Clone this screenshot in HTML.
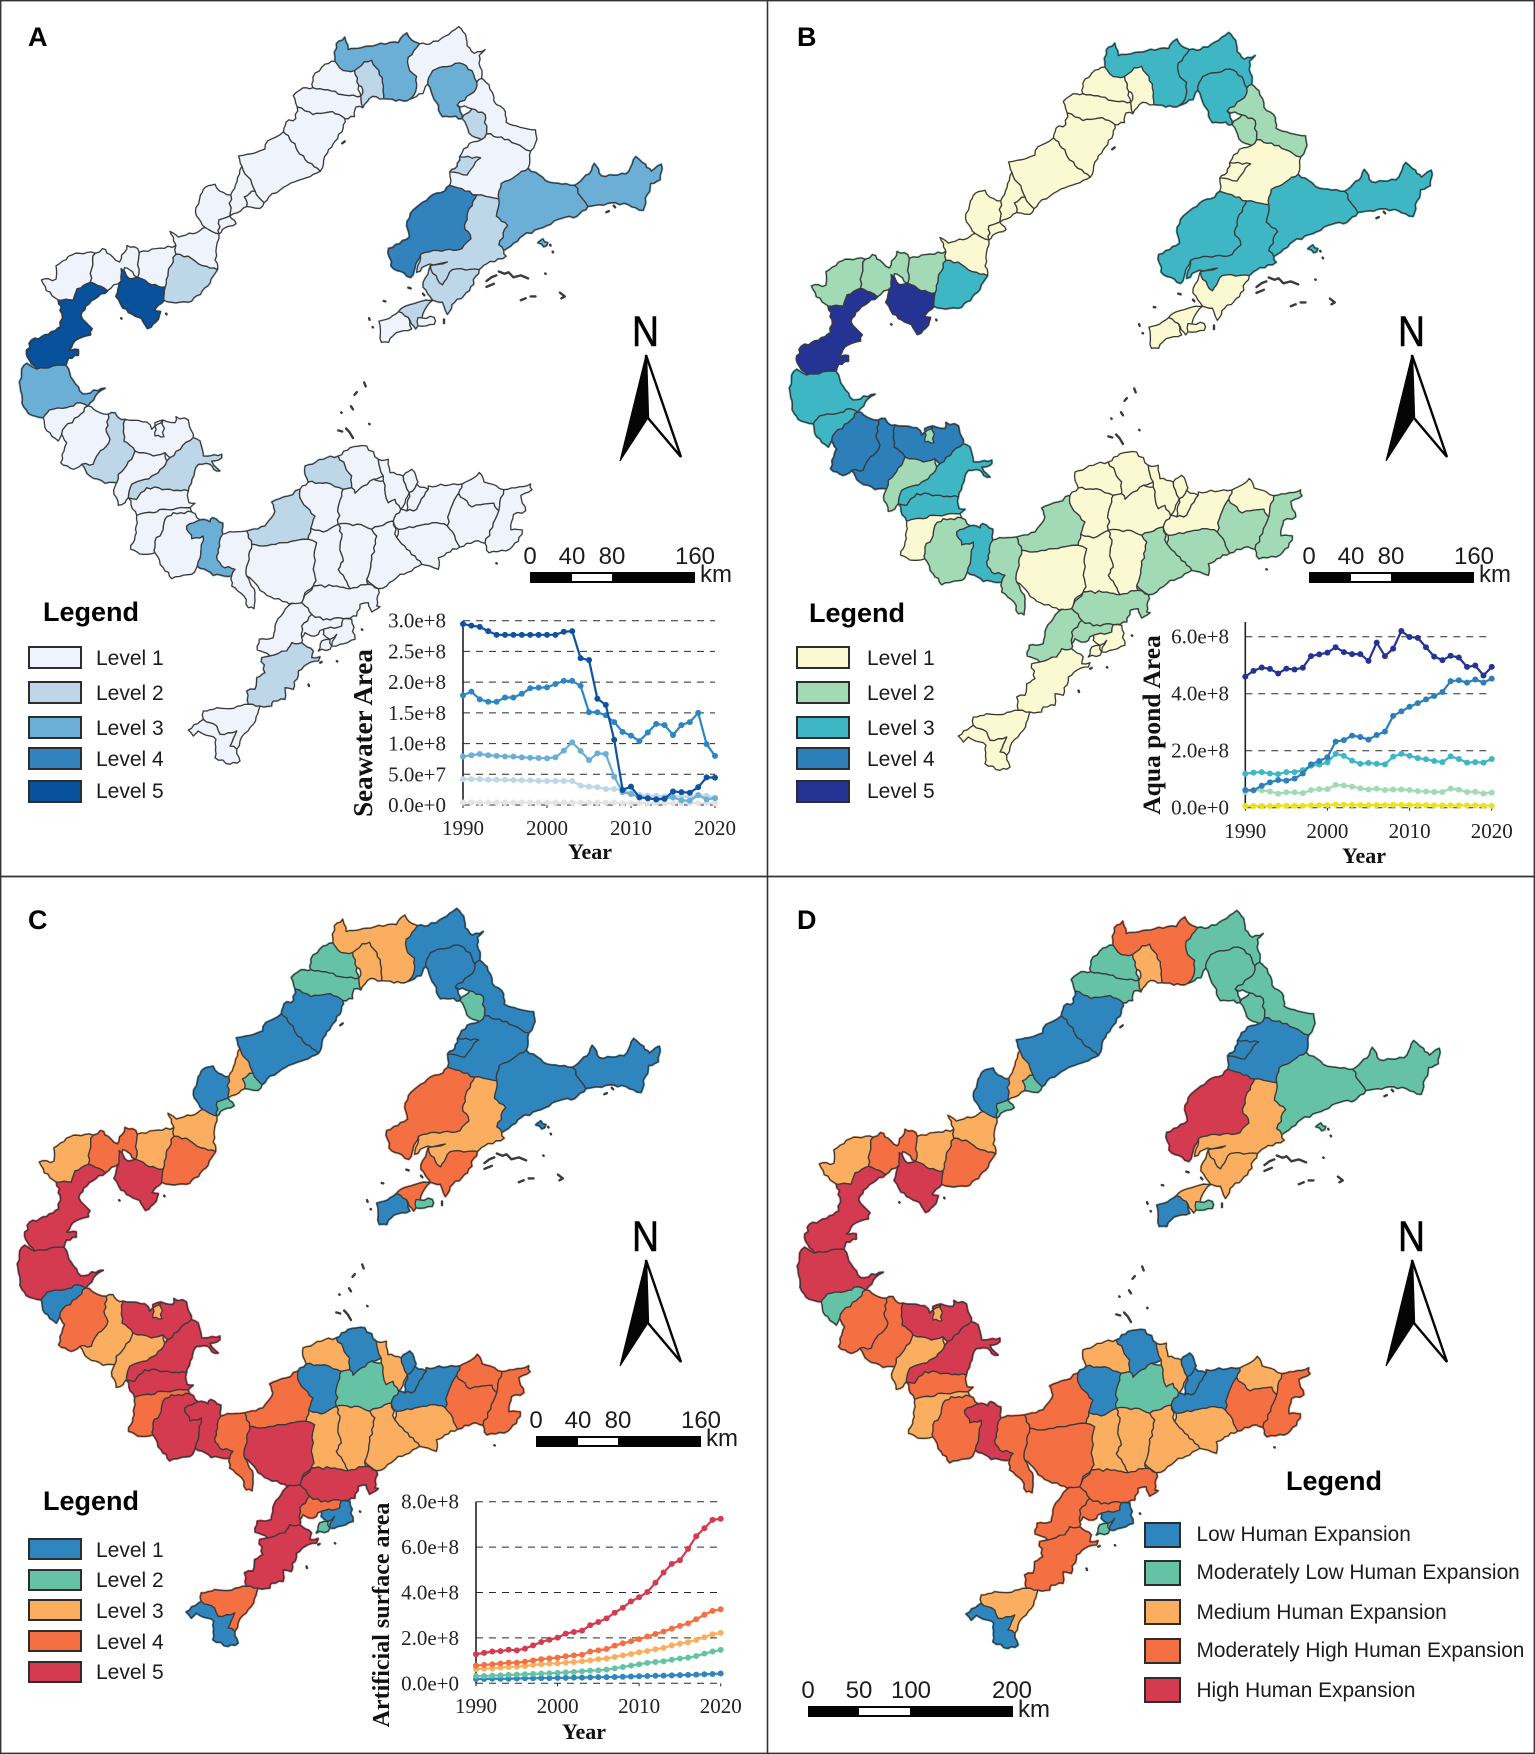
<!DOCTYPE html>
<html lang="en">
<head>
<meta charset="utf-8">
<title>Human expansion maps</title>
<style>
html,body{margin:0;padding:0;background:#fff;}
svg{display:block;}
text{font-family:"Liberation Sans",sans-serif;fill:#1c1c1c;}
.plabel{font-weight:bold;font-size:27px;fill:#000;}
.ltitle{font-weight:bold;font-size:27px;fill:#000;}
.ltext{font-size:21px;}
.scale{font-size:24px;text-anchor:middle;}
.km{font-size:24px;}
.north{font-size:43px;fill:#000;stroke:#000;stroke-width:.6px;}
.swatch{stroke:#2d2d2d;stroke-width:2;}
.axt{font-family:"Liberation Serif",serif;font-weight:bold;fill:#111;text-anchor:middle;}
.tick{font-family:"Liberation Serif",serif;font-size:21px;fill:#222;}
</style>
</head>
<body>
<svg id="root" xmlns="http://www.w3.org/2000/svg" width="1535" height="1754" viewBox="0 0 1535 1754">
<rect x="0" y="0" width="1535" height="1754" fill="#fff"/>
<g id="maps"></g>

<g stroke="#333" fill="none">
<rect x="0.7" y="0.7" width="1533.6" height="1752.6" stroke-width="1.4"/>
<line x1="767.5" y1="0" x2="767.5" y2="1754" stroke-width="1.6"/>
<line x1="0" y1="876.5" x2="1535" y2="876.5" stroke-width="1.8"/>
</g>

<text class="plabel" x="28" y="46">A</text>
<text class="plabel" x="797" y="46">B</text>
<text class="plabel" x="28" y="929">C</text>
<text class="plabel" x="797" y="929">D</text>

<!-- North arrows -->
<g>
<text class="north" x="632" y="346" textLength="27" lengthAdjust="spacingAndGlyphs">N</text>
<polygon points="646,355 620,461 648,418" fill="#050505" stroke="#050505" stroke-width="1"/>
<polygon points="646,355 681,457 648,418" fill="#fff" stroke="#050505" stroke-width="2.4"/>
</g>
<g transform="translate(766,0)">
<text class="north" x="632" y="346" textLength="27" lengthAdjust="spacingAndGlyphs">N</text>
<polygon points="646,355 620,461 648,418" fill="#050505" stroke="#050505" stroke-width="1"/>
<polygon points="646,355 681,457 648,418" fill="#fff" stroke="#050505" stroke-width="2.4"/>
</g>
<g transform="translate(0,905)">
<text class="north" x="632" y="346" textLength="27" lengthAdjust="spacingAndGlyphs">N</text>
<polygon points="646,355 620,461 648,418" fill="#050505" stroke="#050505" stroke-width="1"/>
<polygon points="646,355 681,457 648,418" fill="#fff" stroke="#050505" stroke-width="2.4"/>
</g>
<g transform="translate(766,905)">
<text class="north" x="632" y="346" textLength="27" lengthAdjust="spacingAndGlyphs">N</text>
<polygon points="646,355 620,461 648,418" fill="#050505" stroke="#050505" stroke-width="1"/>
<polygon points="646,355 681,457 648,418" fill="#fff" stroke="#050505" stroke-width="2.4"/>
</g>

<!-- Scale bars -->
<g>
<rect x="530" y="572" width="165" height="11" fill="#050505"/>
<rect x="572" y="574" width="40" height="7" fill="#fff"/>
<text class="scale" x="530" y="564">0</text>
<text class="scale" x="572" y="564">40</text>
<text class="scale" x="612" y="564">80</text>
<text class="scale" x="695" y="564">160</text>
<text class="km" x="700" y="582">km</text>
</g>
<g transform="translate(779,0)">
<rect x="530" y="572" width="165" height="11" fill="#050505"/>
<rect x="572" y="574" width="40" height="7" fill="#fff"/>
<text class="scale" x="530" y="564">0</text>
<text class="scale" x="572" y="564">40</text>
<text class="scale" x="612" y="564">80</text>
<text class="scale" x="695" y="564">160</text>
<text class="km" x="700" y="582">km</text>
</g>
<g transform="translate(6,864)">
<rect x="530" y="572" width="165" height="11" fill="#050505"/>
<rect x="572" y="574" width="40" height="7" fill="#fff"/>
<text class="scale" x="530" y="564">0</text>
<text class="scale" x="572" y="564">40</text>
<text class="scale" x="612" y="564">80</text>
<text class="scale" x="695" y="564">160</text>
<text class="km" x="700" y="582">km</text>
</g>
<g>
<rect x="808" y="1706" width="205" height="11" fill="#050505"/>
<rect x="859" y="1708" width="51" height="7" fill="#fff"/>
<text class="scale" x="808" y="1698">0</text>
<text class="scale" x="859" y="1698">50</text>
<text class="scale" x="911" y="1698">100</text>
<text class="scale" x="1012" y="1698">200</text>
<text class="km" x="1018" y="1717">km</text>
</g>

<!-- Legend A -->
<g>
<text class="ltitle" x="43" y="621">Legend</text>
<rect class="swatch" x="29" y="647" width="52" height="21" fill="#eff3fb"/>
<text class="ltext" x="96" y="665">Level 1</text>
<rect class="swatch" x="29" y="682" width="52" height="21" fill="#bdd7e9"/>
<text class="ltext" x="96" y="700">Level 2</text>
<rect class="swatch" x="29" y="717" width="52" height="21" fill="#6baed6"/>
<text class="ltext" x="96" y="735">Level 3</text>
<rect class="swatch" x="29" y="748" width="52" height="21" fill="#3182bd"/>
<text class="ltext" x="96" y="766">Level 4</text>
<rect class="swatch" x="29" y="781" width="52" height="21" fill="#08519c"/>
<text class="ltext" x="96" y="798">Level 5</text>
</g>
<!-- Legend B -->
<g>
<text class="ltitle" x="809" y="622">Legend</text>
<rect class="swatch" x="797" y="647" width="52" height="21" fill="#fbf9d2"/>
<text class="ltext" x="867" y="665">Level 1</text>
<rect class="swatch" x="797" y="682" width="52" height="21" fill="#a1dab4"/>
<text class="ltext" x="867" y="700">Level 2</text>
<rect class="swatch" x="797" y="717" width="52" height="21" fill="#3eb6c4"/>
<text class="ltext" x="867" y="735">Level 3</text>
<rect class="swatch" x="797" y="748" width="52" height="21" fill="#2c7fb8"/>
<text class="ltext" x="867" y="766">Level 4</text>
<rect class="swatch" x="797" y="781" width="52" height="21" fill="#253494"/>
<text class="ltext" x="867" y="798">Level 5</text>
</g>
<!-- Legend C -->
<g>
<text class="ltitle" x="43" y="1510">Legend</text>
<rect class="swatch" x="29" y="1539" width="52" height="20" fill="#2f86bf"/>
<text class="ltext" x="96" y="1557">Level 1</text>
<rect class="swatch" x="29" y="1570" width="52" height="20" fill="#66c2a5"/>
<text class="ltext" x="96" y="1587">Level 2</text>
<rect class="swatch" x="29" y="1600" width="52" height="20" fill="#fcae60"/>
<text class="ltext" x="96" y="1618">Level 3</text>
<rect class="swatch" x="29" y="1631" width="52" height="20" fill="#f46f41"/>
<text class="ltext" x="96" y="1649">Level 4</text>
<rect class="swatch" x="29" y="1662" width="52" height="20" fill="#d53b50"/>
<text class="ltext" x="96" y="1679">Level 5</text>
</g>
<!-- Legend D -->
<g>
<text class="ltitle" x="1286" y="1490">Legend</text>
<rect class="swatch" x="1145" y="1523" width="35" height="24" fill="#2f86bf"/>
<text class="ltext" style="font-size:20.85px" x="1196.5" y="1541">Low Human Expansion</text>
<rect class="swatch" x="1145" y="1561" width="35" height="24" fill="#66c2a5"/>
<text class="ltext" style="font-size:20.85px" x="1196.5" y="1579">Moderately Low Human Expansion</text>
<rect class="swatch" x="1145" y="1600" width="35" height="24" fill="#fcae60"/>
<text class="ltext" style="font-size:20.85px" x="1196.5" y="1619">Medium Human Expansion</text>
<rect class="swatch" x="1145" y="1639" width="35" height="24" fill="#f46f41"/>
<text class="ltext" style="font-size:20.85px" x="1196.5" y="1657">Moderately High Human Expansion</text>
<rect class="swatch" x="1145" y="1678" width="35" height="24" fill="#d53b50"/>
<text class="ltext" style="font-size:20.85px" x="1196.5" y="1697">High Human Expansion</text>
</g>

<!-- Chart titles -->
<text class="axt" font-size="27" transform="translate(372,733) rotate(-90)">Seawater Area</text>
<text class="axt" font-size="22" x="590" y="859">Year</text>
<text class="axt" font-size="25.5" transform="translate(1160,725) rotate(-90)">Aqua pond Area</text>
<text class="axt" font-size="22" x="1364" y="863">Year</text>
<text class="axt" font-size="24" transform="translate(389,1615) rotate(-90)">Artificial surface area</text>
<text class="axt" font-size="22" x="584" y="1739">Year</text>

<g id="charts"></g>
</svg>

<script>
/* ---------- chart data (values in units of 1e8) ---------- */
const years = [1990,1991,1992,1993,1994,1995,1996,1997,1998,1999,2000,2001,2002,2003,2004,2005,2006,2007,2008,2009,2010,2011,2012,2013,2014,2015,2016,2017,2018,2019,2020];
const xTickYears = [1990,2000,2010,2020];

const seawaterTicks = [0,0.5,1,1.5,2,2.5,3];
const seawaterTickLabels = ["0.0e+0","5.0e+7","1.0e+8","1.5e+8","2.0e+8","2.5e+8","3.0e+8"];
const seawaterLevel1 = [.04,.04,.04,.04,.04,.04,.04,.04,.04,.04,.04,.04,.04,.04,.04,.04,.04,.04,.04,.03,.03,.03,.03,.03,.03,.03,.03,.03,.03,.03,.03];
const seawaterLevel2 = [.42,.42,.42,.41,.41,.41,.405,.40,.40,.395,.39,.39,.39,.39,.315,.30,.29,.26,.26,.245,.20,.17,.15,.15,.14,.14,.14,.13,.16,.15,.12];
const seawaterLevel3 = [.79,.81,.83,.81,.80,.79,.79,.775,.77,.765,.76,.775,.885,1.02,.88,.73,.84,.83,.46,.21,.18,.125,.11,.10,.11,.125,.075,.07,.16,.09,.11];
const seawaterLevel4 = [1.785,1.845,1.72,1.68,1.68,1.75,1.75,1.81,1.90,1.91,1.915,1.97,2.02,2.02,1.94,1.51,1.51,1.46,1.35,1.19,1.13,1.04,1.18,1.32,1.30,1.14,1.30,1.35,1.50,.99,.80];
const seawaterLevel5 = [2.946,2.92,2.90,2.83,2.77,2.77,2.77,2.77,2.77,2.77,2.77,2.77,2.82,2.83,2.39,2.36,1.73,1.63,1.06,.245,.30,.125,.11,.09,.10,.22,.21,.20,.29,.45,.445];

const aquaTicks = [0,2,4,6];
const aquaTickLabels = ["0.0e+0","2.0e+8","4.0e+8","6.0e+8"];
const aquaLevel1 = [.06,.06,.06,.06,.07,.07,.07,.07,.08,.09,.09,.11,.10,.10,.09,.09,.09,.09,.10,.10,.09,.09,.09,.08,.08,.08,.08,.08,.08,.07,.07];
const aquaLevel2 = [.55,.62,.61,.57,.49,.54,.54,.51,.62,.65,.65,.80,.78,.74,.68,.64,.67,.62,.64,.64,.62,.58,.57,.55,.55,.67,.63,.55,.56,.50,.53];
const aquaLevel3 = [1.19,1.23,1.25,1.2,1.18,1.25,1.25,1.32,1.47,1.51,1.59,1.89,1.82,1.65,1.54,1.57,1.54,1.52,1.79,1.89,1.82,1.74,1.7,1.64,1.6,1.8,1.71,1.58,1.6,1.58,1.71];
const aquaLevel4 = [.62,.61,.77,.89,.97,.95,1.02,1.2,1.52,1.64,1.77,2.32,2.37,2.53,2.48,2.39,2.55,2.67,3.22,3.38,3.54,3.67,3.8,3.92,4.06,4.44,4.47,4.39,4.5,4.39,4.53];
const aquaLevel5 = [4.6,4.8,4.92,4.87,4.71,4.88,4.85,4.91,5.32,5.38,5.44,5.63,5.46,5.39,5.39,5.15,5.79,5.32,5.58,6.2,5.99,5.96,5.63,5.3,5.18,5.33,5.27,4.94,4.99,4.64,4.94];

const artificialTicks = [0,2,4,6,8];
const artificialTickLabels = ["0.0e+0","2.0e+8","4.0e+8","6.0e+8","8.0e+8"];
const artificialLevel1 = [.19,.19,.2,.2,.2,.21,.22,.22,.23,.23,.24,.24,.25,.25,.26,.27,.27,.28,.29,.3,.31,.32,.33,.34,.35,.36,.37,.38,.4,.41,.43];
const artificialLevel2 = [.32,.32,.34,.35,.37,.38,.4,.41,.43,.44,.46,.48,.5,.53,.56,.57,.6,.66,.72,.78,.84,.9,.94,.97,1.04,1.09,1.13,1.2,1.31,1.4,1.47];
const artificialLevel3 = [.62,.65,.66,.69,.72,.73,.76,.81,.84,.87,.88,.91,.94,.97,1.01,1.06,1.09,1.16,1.23,1.29,1.37,1.42,1.5,1.56,1.67,1.75,1.81,1.91,2.03,2.16,2.22];
const artificialLevel4 = [.78,.81,.84,.87,.91,.91,.95,1.01,1.06,1.1,1.13,1.19,1.23,1.26,1.4,1.45,1.51,1.66,1.76,1.85,1.94,2.06,2.17,2.28,2.41,2.53,2.64,2.82,3.02,3.19,3.26];
const artificialLevel5 = [1.28,1.34,1.4,1.42,1.48,1.45,1.53,1.67,1.82,1.92,2.01,2.19,2.26,2.32,2.56,2.7,2.86,3.11,3.33,3.61,3.79,4.02,4.43,4.88,5.26,5.42,5.92,6.48,6.83,7.2,7.25];

/* ---------- choropleth data: one level per region, aligned with regionShapes ---------- */
const levelsA = [3,2,1,1,1,1,1,1,1,1,1,2,1,1,5,1,5,3,1,3,1,2,1,2,3,3,4,2,2,2,1,1,3, 1,1,2,1,1,2,1,1,1,1,3,1,2,1,1,2,1,1,1,1,1,1,1,1,1,1,1,1,1,1,1,2,1,1, 1,1,1];
const levelsB = [3,1,1,1,1,1,1,1,1,1,1,3,2,2,5,2,5,3,3,3,2,2,1,1,3,3,3,3,1,1,1,1,3, 3,4,4,4,2,3,2,3,1,2,3,2,2,1,1,1,1,1,1,1,1,1,2,2,1,1,2,2,2,1,1,1,1,1, 2,1,2];
const levelsC = [3,3,2,2,1,1,3,2,1,2,3,4,3,4,5,3,5,5,1,1,1,2,1,1,1,1,4,3,4,4,2,1,1, 1,4,3,5,3,5,3,5,4,5,5,4,4,5,1,3,1,2,3,1,1,1,3,3,3,3,5,5,4,1,2,5,4,1, 4,4,4];
const levelsD = [4,3,2,2,1,1,3,2,1,2,3,4,3,4,5,3,5,5,2,2,2,2,1,1,2,2,5,3,3,3,2,1,2, 2,4,4,5,3,5,3,4,3,4,5,4,4,4,1,3,1,2,3,1,1,1,3,3,3,3,4,4,4,1,2,4,3,1, 4,3,4];
const paletteA = ["#eff3fb","#bdd7e9","#6baed6","#3182bd","#08519c"];
const paletteB = ["#fbf9d2","#a1dab4","#3eb6c4","#2c7fb8","#253494"];
const paletteCD = ["#2f86bf","#66c2a5","#fcae60","#f46f41","#d53b50"];

/* region outlines. n = traced on northern crop, s = traced on southern crop */
const regionShapes = [
["n","708,125 725,108 732,140 760,135 790,128 835,122 852,97 868,120 878,125 855,160 858,195 872,210 870,250 858,270 830,274 805,268 802,225 795,195 780,168 765,172 745,195 722,195 705,170"],
["n","745,195 765,172 780,168 795,195 802,225 805,268 782,262 762,292 762,245 750,225"],
["n","685,178 705,170 722,195 745,195 750,225 758,262 720,258 690,245 660,240 660,212"],
["n","660,240 690,245 720,258 758,262 762,292 748,290 745,315 725,320 700,302 660,310 628,290 620,260 640,240"],
["n","632,295 660,310 700,302 725,320 722,345 705,380 690,410 682,430 675,458 650,435 625,395 610,365 600,355 605,330 625,320"],
["n","600,355 610,365 625,395 650,435 675,458 640,478 600,500 570,525 560,540 535,490 515,445 508,418 535,412 562,400 568,378"],
["n","515,445 535,490 542,510 520,525 525,550 490,575 492,520 505,485"],
["n","535,510 560,540 552,555 525,550 520,525"],
["n","440,500 460,492 470,510 490,520 490,575 468,585 468,622 440,605 420,565 430,520"],
["n","468,585 490,575 503,595 475,610 468,622"],
["n","368,615 385,630 430,612 440,605 468,622 470,625 460,690 465,715 435,705 405,680 380,675 375,640"],
["n","380,675 405,680 435,705 465,715 450,750 430,780 405,800 380,802 355,795 358,760 365,712"],
["n","305,670 340,660 380,652 380,675 365,712 358,760 330,755 302,735"],
["n","210,680 230,660 245,675 265,695 280,652 302,660 305,670 302,735 285,715 275,710 268,745 240,770 205,748"],
["n","268,712 285,740 302,735 330,755 358,760 355,795 335,822 348,825 338,852 322,868 310,842 290,830 272,815 258,785 265,745"],
["n","135,705 175,672 215,672 205,748 178,765 170,795 140,795 115,770 105,742 135,740"],
["n","178,765 205,748 240,770 215,790 195,810 185,835 208,870 205,885 180,895 160,925 180,925 180,938 160,945 155,965 95,975 75,935 85,900 120,885 145,865 148,830 140,800 170,795"],
["n","95,975 155,965 170,1005 190,1040 235,1025 215,1045 200,1071 184,1063 121,1082 109,1102 85,1095 70,1075 62,1020 65,975 75,960"],
["n","878,125 900,125 930,105 958,80 972,100 975,130 990,150 1012,140 1000,155 1005,215 995,225 985,195 960,175 925,185 905,195 895,230 885,255 860,275 870,250 872,210 858,195 855,160"],
["n","905,195 925,185 960,175 985,195 995,225 990,250 955,285 965,320 945,315 925,315 905,260 895,230"],
["n","995,225 1005,215 1020,232 1030,275 1050,295 1055,330 1090,345 1115,350 1118,375 1105,405 1060,375 1015,360 1012,310 985,295 960,290 955,285 990,250"],
["n","965,320 985,295 1012,310 1015,360 1005,375 985,365"],
["n","980,385 1005,375 1015,360 1060,375 1105,405 1100,450 1075,470 1045,490 1040,530 995,520 940,495 940,460 955,445 965,410"],
["n","960,420 1003,423 985,450 975,468 945,462 955,445"],
["n","1100,450 1135,482 1195,495 1222,550 1200,575 1170,580 1130,605 1090,625 1050,665 1040,650 1058,600 1035,575 1040,530 1045,490 1075,470"],
["n","1195,495 1225,465 1235,438 1250,470 1300,465 1320,420 1340,440 1352,458 1372,440 1370,480 1350,490 1335,560 1305,545 1270,540 1222,555 1222,550"],
["n","940,490 995,520 975,575 970,600 983,635 965,660 915,665 880,675 870,700 860,735 820,705 815,660 858,630 852,600 865,560 905,520 930,510"],
["n","995,522 1040,530 1035,575 1058,600 1040,650 1050,665 1055,680 1015,700 1000,715 945,715 925,755 905,725 900,705 935,695 890,705 872,722 880,675 915,665 965,660 983,635 970,600 975,575"],
["n","900,705 905,725 925,755 945,715 1000,715 980,770 950,800 935,832 925,800 905,795 885,760"],
["n","890,795 905,800 885,830 870,870 855,840 835,825 850,810"],
["n","875,840 908,840 908,858 875,862"],
["n","810,845 835,825 855,840 862,870 830,880 815,905 800,905 795,850"],
["n","1120,645 1130,635 1140,645 1132,655"],
["s","160,65 178,42 230,35 270,20 293,30 265,62 225,92 215,115 205,135 180,110 165,95"],
["s","293,30 330,50 355,55 350,110 360,130 340,160 320,180 310,205 275,205 250,220 212,200 222,165 230,140 215,115 225,92 265,62"],
["s","355,55 375,50 385,65 405,70 402,135 435,165 425,190 385,235 380,260 345,262 300,240 275,205 310,205 320,180 340,160 360,130 350,110"],
["s","405,70 470,78 485,100 495,80 518,72 555,80 558,62 595,72 610,125 540,185 525,170 490,180 460,170 435,165 402,135"],
["s","495,90 518,72 522,122 495,120"],
["s","610,125 630,135 640,180 695,175 695,185 665,195 690,225 680,225 660,205 625,205 595,285 540,280 470,275 440,310 415,305 425,265 465,250 505,230 530,195 540,185"],
["s","435,165 460,170 490,180 525,170 530,195 505,230 465,250 425,265 405,320 385,328 372,295 385,235 425,190"],
["s","470,275 540,280 595,285 597,320 615,322 600,335 520,340 490,350 440,358 410,310 415,305 440,310"],
["s","440,358 490,350 520,340 600,335 605,348 550,350 525,370 515,410 495,435 495,470 460,475 422,460 435,420 442,380"],
["s","525,370 550,350 605,348 630,372 590,390 605,428 640,420 622,510 605,535 545,548 520,515 495,455 495,435 515,410"],
["s","590,390 630,372 660,378 668,365 698,382 698,415 688,440 680,480 695,510 735,520 725,540 670,538 622,510 640,420 605,428"],
["s","698,415 730,408 770,405 785,445 778,490 768,525 795,590 792,638 775,635 762,600 725,570 740,520 695,510 680,480 688,440"],
["s","775,400 825,390 855,345 845,318 895,300 930,280 935,315 975,360 962,397 955,430 880,440 820,450 785,445"],
["s","785,445 820,450 880,440 955,430 980,440 970,520 978,555 945,590 935,620 890,618 830,598 770,540 768,525 778,490"],
["s","930,280 955,258 1010,260 1060,280 1048,320 1045,385 1000,408 962,397 975,360 935,315"],
["s","945,210 1010,185 1045,180 1085,240 1085,275 1060,280 1010,260 955,258 945,235"],
["s","1045,180 1080,155 1130,150 1165,190 1180,240 1150,250 1120,270 1095,292 1085,240"],
["s","1060,280 1085,275 1095,292 1120,270 1150,250 1180,255 1195,320 1215,310 1232,340 1210,375 1190,380 1145,400 1100,385 1045,385 1048,320"],
["s","1165,190 1195,190 1200,230 1240,240 1258,290 1240,345 1232,340 1215,310 1195,320 1180,255 1180,240"],
["s","1240,235 1265,220 1280,250 1268,285 1258,290"],
["s","1280,265 1315,280 1290,320 1280,340 1250,345 1258,290 1268,285"],
["s","1315,270 1416,264 1406,292 1382,338 1372,390 1340,380 1280,390 1225,400 1212,375 1232,340 1250,345 1280,340 1290,320"],
["s","1225,400 1280,390 1340,380 1372,390 1394,419 1409,453 1370,470 1345,485 1345,520 1320,510 1295,505 1280,490 1250,460 1220,425"],
["s","1145,400 1190,380 1212,375 1220,425 1250,460 1280,490 1295,505 1265,525 1230,535 1190,570 1165,578 1130,550 1145,490 1160,420"],
["s","1045,385 1100,385 1145,400 1160,420 1145,490 1130,550 1135,565 1080,578 1045,520 1060,495 1050,450 1055,425"],
["s","962,397 1000,408 1045,385 1055,425 1050,450 1060,495 1045,520 1080,578 1040,570 970,570 978,555 970,520 980,440 955,430"],
["s","970,570 1040,572 1080,578 1135,568 1168,590 1160,630 1170,632 1145,648 1135,620 1110,625 1100,660 1040,665 1000,672 965,655 945,630 940,610"],
["s","905,622 940,620 945,630 960,650 935,690 935,740 905,740 890,765 840,780 802,762 808,730 850,725 855,690 880,650"],
["s","960,655 1000,672 1060,668 1055,690 1000,700 975,720 945,710 935,725 935,690"],
["s","1060,668 1085,670 1095,730 1050,745 1025,750 1040,715 1020,730 1000,715 1000,705 1055,690"],
["s","995,735 1025,730 1020,760 985,765"],
["s","905,740 935,740 970,765 965,785 990,782 985,795 950,805 925,825 910,880 885,875 885,910 850,915 845,930 775,925 770,885 795,880 800,845 825,830 815,785 840,780 890,765"],
["s","640,945 680,935 720,938 775,925 810,930 790,985 750,1035 740,1060 720,1050 740,1005 690,1015 680,990 640,970"],
["s","595,1002 635,975 660,980 680,990 690,1015 740,1005 718,1050 740,1060 750,1095 720,1105 675,1085 678,1030 660,1020 625,1005 610,1020"],
["n","935,1385 942,1340 958,1300 985,1335 1030,1325 1040,1345 1012,1430 990,1425 960,1440 950,1410"],
["n","958,1300 965,1275 985,1262 1000,1245 1010,1270 1050,1290 1040,1345 1030,1325 985,1335"],
["n","1050,1290 1075,1285 1105,1275 1108,1290 1085,1305 1095,1345 1070,1355 1065,1395 1088,1395 1080,1425 1055,1450 1020,1455 1012,1430 1040,1345"]
];
/* small off-shore islands as short strokes, in the northern crop's units */
const islandStrokes = ["1040,720 1052,726 1060,722 1070,735 1085,730 1100,738","1015,745 1025,735 1035,730","1015,760 1030,752","1085,795 1095,790","1105,785 1115,785","1165,775 1175,785 1168,790",
"1135,725 1136,726","1145,650 1146,652","1150,668 1151,670","855,762 860,764","885,778 888,782","805,797 808,798","775,842 776,846","782,865 783,866","928,845 928,855","268,842 269,843","360,830 361,832","725,380 720,385","1260,565 1265,562","1275,548 1278,552",
"765,1010 768,1020","750,1035 745,1042","738,1072 742,1080","718,1088 719,1089","775,1118 776,1119","712,1135 720,1138","728,1130 735,1140 742,1155","1035,1482 1036,1483","651,1799 652,1803","709,1738 710,1739","760,1655 761,1656","675,1742 678,1740"];

const svgNS = "http://www.w3.org/2000/svg";
function mk(tag, attrs, parent) {
  const e = document.createElementNS(svgNS, tag);
  for (const k in attrs) e.setAttribute(k, attrs[k]);
  parent.appendChild(e);
  return e;
}
function toBase(src, x, y) {
  return src === "n" ? [768 + 0.4892 * x, 880 + 0.3827 * y] : [768 + x / 3, 1280 + y / 3];
}
function parsePts(src, s) {
  return s.split(" ").map(function (p) { const a = p.split(",").map(Number); return toBase(src, a[0], a[1]); });
}
/* merge nearly-coincident vertices and split edges at neighbours' vertices so shared borders coincide */
const anchors = [];
function snapPoint(p) {
  for (let i = 0; i < anchors.length; i++) {
    if (Math.hypot(anchors[i][0] - p[0], anchors[i][1] - p[1]) < 3.2) return anchors[i];
  }
  anchors.push(p);
  return p;
}
function buildTopology() {
  const snapped = regionShapes.map(function (r) {
    const out = [];
    parsePts(r[0], r[1]).forEach(function (p) {
      const s = snapPoint(p);
      if (out[out.length - 1] !== s) out.push(s);
    });
    if (out.length > 1 && out[0] === out[out.length - 1]) out.pop();
    return out;
  });
  return snapped.map(function (poly) {
    const out = [];
    poly.forEach(function (a, i) {
      const b = poly[(i + 1) % poly.length];
      out.push(a);
      const dx = b[0] - a[0], dy = b[1] - a[1], L2 = dx * dx + dy * dy;
      if (L2 === 0) return;
      const hits = [];
      anchors.forEach(function (c) {
        if (poly.indexOf(c) >= 0) return;
        const t = ((c[0] - a[0]) * dx + (c[1] - a[1]) * dy) / L2;
        if (t <= 0.02 || t >= 0.98) return;
        const d = Math.hypot(a[0] + dx * t - c[0], a[1] + dy * t - c[1]);
        if (d < 2.6) hits.push({ t: t, c: c });
      });
      hits.sort(function (u, v) { return u.t - v.t; });
      hits.forEach(function (h) { out.push(h.c); });
    });
    return out;
  });
}
/* roughen an edge identically from both sides so shared borders line up */
function wobble(pts) {
  const out = [];
  for (let i = 0; i < pts.length; i++) {
    const a = pts[i], b = pts[(i + 1) % pts.length];
    out.push(a);
    const len = Math.hypot(b[0] - a[0], b[1] - a[1]);
    if (len < 5) continue;
    const swap = (a[0] > b[0]) || (a[0] === b[0] && a[1] > b[1]);
    const p = swap ? b : a, q = swap ? a : b;
    const nx = -(q[1] - p[1]) / len, ny = (q[0] - p[0]) / len;
    const n = Math.min(12, Math.floor(len / 4.5));
    const mids = [];
    for (let k = 1; k <= n; k++) {
      const t = k / (n + 1);
      const h = Math.sin((p[0] * 12.9898 + p[1] * 78.233 + q[0] * 37.719 + q[1] * 11.13 + k * 4.1)) * 43758.5453;
      const d = ((h - Math.floor(h)) - 0.5) * 2.6;
      mids.push([p[0] + (q[0] - p[0]) * t + nx * d, p[1] + (q[1] - p[1]) * t + ny * d]);
    }
    if (swap) mids.reverse();
    mids.forEach(function (m) { out.push(m); });
  }
  return out;
}
const regionPointStrings = buildTopology().map(function (poly) {
  return wobble(poly).map(function (p) { return p[0].toFixed(1) + "," + p[1].toFixed(1); }).join(" ");
});
const maps = document.getElementById("maps");
function drawMap(name, dx, dy, levels, palette) {
  const g = mk("g", { transform: "translate(" + dx + "," + dy + ")" }, maps);
  
  
  /* underlay closes hairline gaps between neighbouring regions */
  regionPointStrings.forEach(function (pts, i) {
    const col = palette[levels[i] - 1];
    const under = mk("polygon", { points: pts, fill: col, stroke: col, "stroke-width": 2.4, "stroke-linejoin": "round" }, g);
    
    
  });
  regionPointStrings.forEach(function (pts, i) {
    const poly = mk("polygon", {
      points: pts,
      fill: palette[levels[i] - 1], stroke: "#3a3a3a", "stroke-width": 1.3, "stroke-linejoin": "round"
    }, g);
    
    
  });
  islandStrokes.forEach(function (s) {
    const pts = parsePts("n", s);
    const line = mk("polyline", {
      points: pts.map(function (p) { return p[0].toFixed(1) + "," + p[1].toFixed(1); }).join(" "),
      fill: "none", stroke: "#3a3a3a", "stroke-width": 2.4, "stroke-linecap": "round", "stroke-linejoin": "round"
    }, g);
    
    
  });
}
drawMap("map-panel-a", -778, -884, levelsA, paletteA);
drawMap("map-panel-b", -8, -878, levelsB, paletteB);
drawMap("map-panel-c", -780, -2, levelsC, paletteCD);
drawMap("map-panel-d", 0, 0, levelsD, paletteCD);

/* ---------- charts ---------- */
const chartsRoot = document.getElementById("charts");
function drawChart(cfg) {
  const xScale = function (yr) { return cfg.x0 + (yr - years[0]) / (years[years.length - 1] - years[0]) * (cfg.x1 - cfg.x0); };
  const yScale = function (v) { return cfg.y0 + (v / cfg.yMax) * (cfg.yTop - cfg.y0); };
  const g = mk("g", {}, chartsRoot);
  
  
  cfg.ticks.forEach(function (t, i) {
    const y = yScale(t);
    const grid = mk("line", { x1: cfg.x0, x2: cfg.x1, y1: y, y2: y, stroke: "#2a2a2a", "stroke-width": 1, "stroke-dasharray": "7 6" }, g);
    
    
    const lab = mk("text", { x: cfg.labelRight, y: y + 7, "text-anchor": "end", "class": "tick" }, g);
    
    
    lab.textContent = cfg.tickLabels[i];
  });
  const yAxis = mk("line", { x1: cfg.x0, x2: cfg.x0, y1: cfg.axisTop, y2: cfg.y0, stroke: "#222", "stroke-width": 1.6 }, g);
  
  
  xTickYears.forEach(function (yr) {
    const x = xScale(yr);
    const tk = mk("line", { x1: x, x2: x, y1: cfg.y0, y2: cfg.y0 + 3, stroke: "#222", "stroke-width": 1 }, g);
    
    
    const lab = mk("text", { x: x, y: cfg.xLabelY, "text-anchor": "middle", "class": "tick" }, g);
    
    
    lab.textContent = String(yr);
  });
  cfg.series.forEach(function (s, si) {
    const sg = mk("g", {}, g);
    
    
    const line = mk("polyline", {
      points: s.values.map(function (v, i) { return xScale(years[i]).toFixed(2) + "," + yScale(v).toFixed(2); }).join(" "),
      fill: "none", stroke: s.color, "stroke-width": 2.2, "stroke-linejoin": "round"
    }, sg);
    
    
    s.values.forEach(function (v, i) {
      const c = mk("circle", { cx: xScale(years[i]), cy: yScale(v), r: 3, fill: s.color }, sg);
      
      
    });
  });
}
drawChart({
  name: "seawater-chart", x0: 463, x1: 715, y0: 805, yTop: 620.7, yMax: 3, axisTop: 620.7,
  ticks: seawaterTicks, tickLabels: seawaterTickLabels, labelRight: 446, xLabelY: 835,
  series: [
    { values: seawaterLevel1, color: "#e3e3e3" },
    { values: seawaterLevel2, color: "#bdd7e9" },
    { values: seawaterLevel3, color: "#6baed6" },
    { values: seawaterLevel4, color: "#2c86c4" },
    { values: seawaterLevel5, color: "#0f529f" }
  ]
});
drawChart({
  name: "aqua-pond-chart", x0: 1245.3, x1: 1491.7, y0: 807.7, yTop: 636.7, yMax: 6, axisTop: 622,
  ticks: aquaTicks, tickLabels: aquaTickLabels, labelRight: 1229, xLabelY: 838,
  series: [
    { values: aquaLevel1, color: "#e9e31c" },
    { values: aquaLevel2, color: "#a1dab4" },
    { values: aquaLevel3, color: "#3eb6c4" },
    { values: aquaLevel4, color: "#2c7fb8" },
    { values: aquaLevel5, color: "#253494" }
  ]
});
drawChart({
  name: "artificial-surface-chart", x0: 476, x1: 720.7, y0: 1683.3, yTop: 1501.7, yMax: 8, axisTop: 1501.7,
  ticks: artificialTicks, tickLabels: artificialTickLabels, labelRight: 459, xLabelY: 1713,
  series: [
    { values: artificialLevel1, color: "#2f86bf" },
    { values: artificialLevel2, color: "#66c2a5" },
    { values: artificialLevel3, color: "#fcae60" },
    { values: artificialLevel4, color: "#f46f41" },
    { values: artificialLevel5, color: "#d53b50" }
  ]
});
</script>
</body>
</html>
